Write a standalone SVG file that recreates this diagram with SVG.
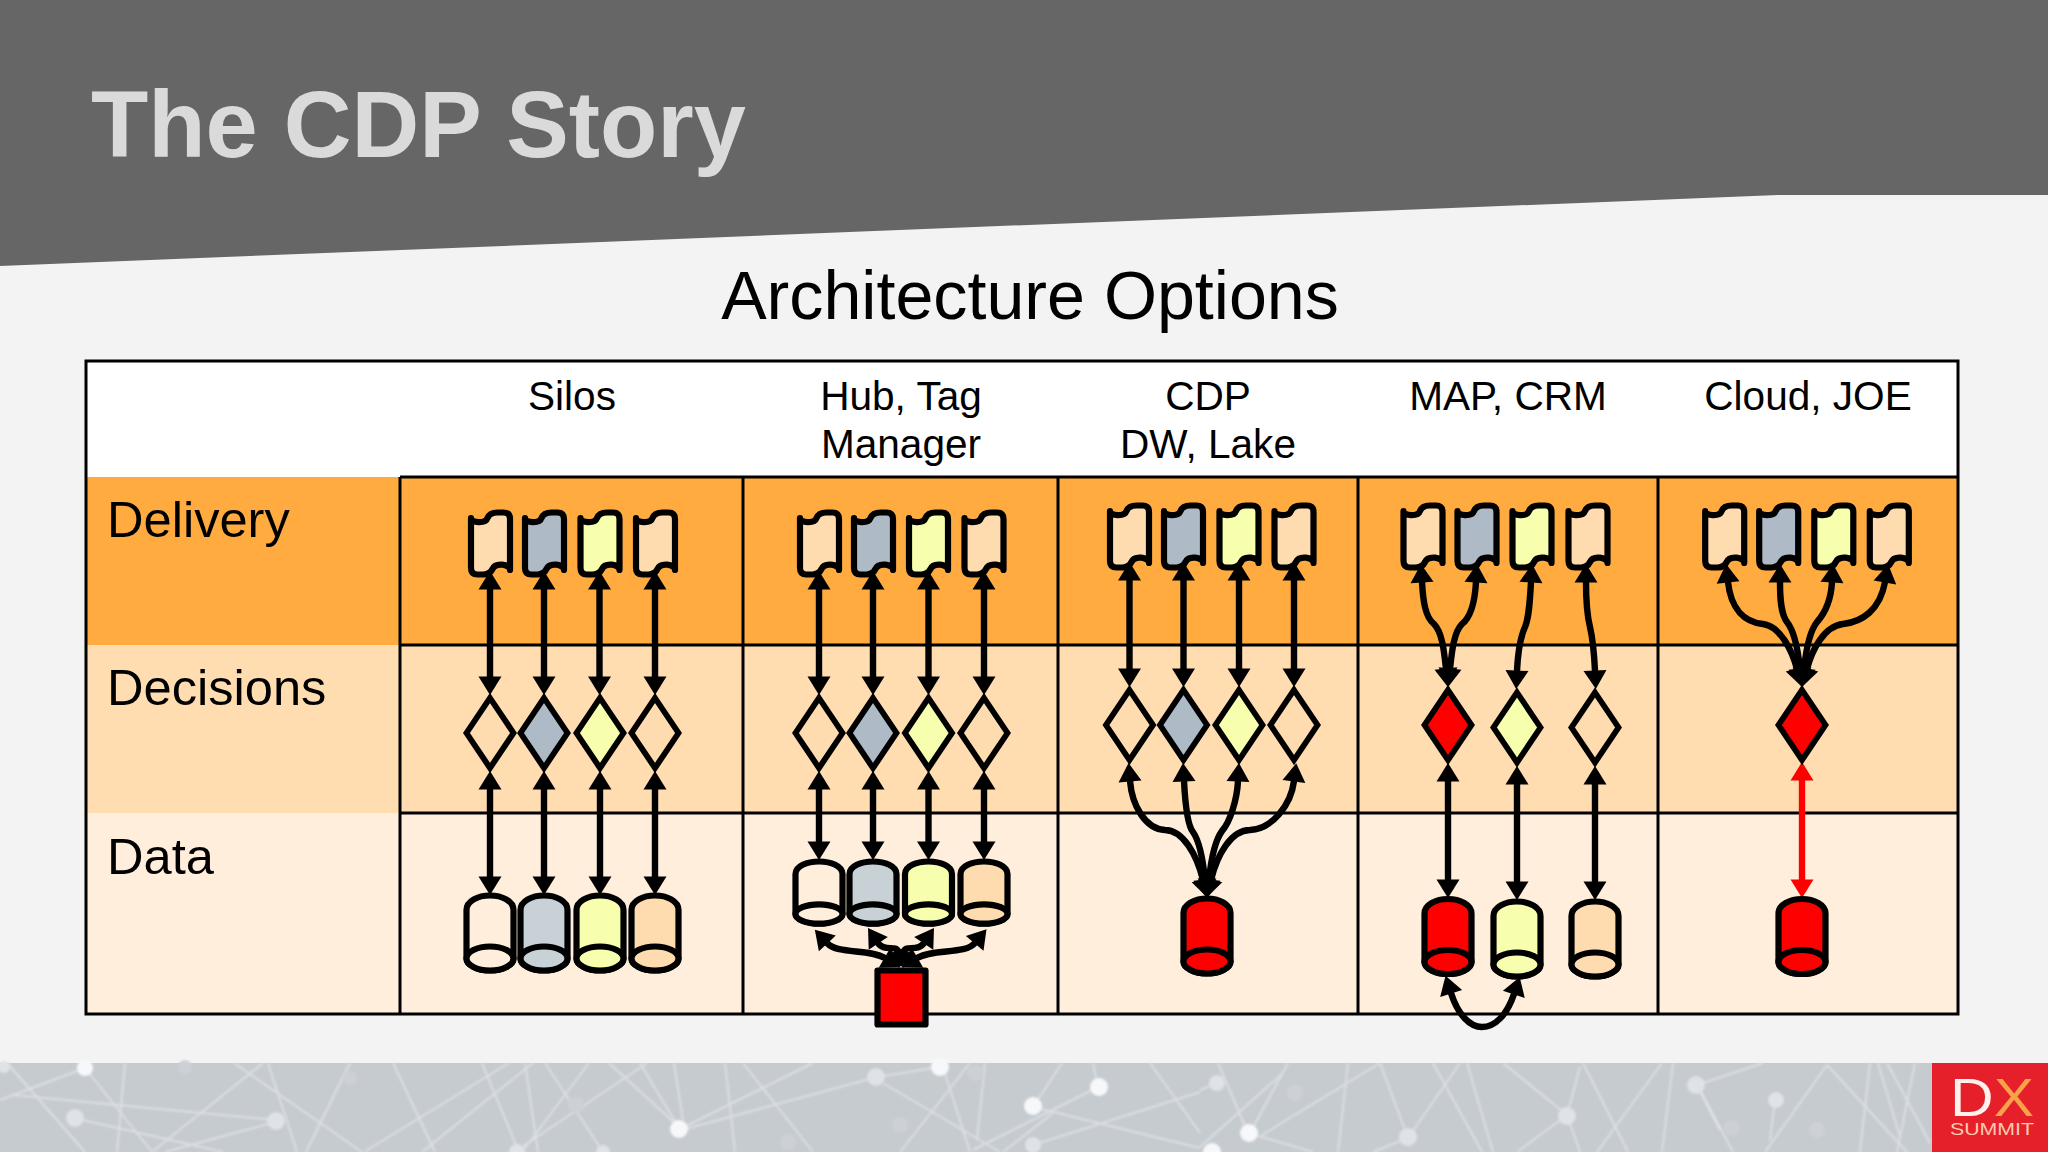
<svg xmlns="http://www.w3.org/2000/svg" xmlns:xlink="http://www.w3.org/1999/xlink" width="2048" height="1152" viewBox="0 0 2048 1152">
<style>
text{font-family:"Liberation Sans",Arial,sans-serif;fill:#000}
.h{font-size:40.6px;text-anchor:middle}
.r{font-size:50.6px}
.ln{fill:none;stroke:#000;stroke-width:3}
.s{stroke:#000;stroke-linejoin:round;stroke-linecap:round;stroke-width:6.2}
.d{stroke:#000;stroke-width:5.8;stroke-linejoin:miter}
.pe{fill:#FFDCB0}.bl{fill:#AEBAC6}.ye{fill:#F7FFAF}.re{fill:#FF0000}.cr{fill:#FFEEDC}.cb{fill:#C8D2D6}
#connectors path{fill:none;stroke:#000;stroke-width:6.4;marker-start:url(#ah);marker-end:url(#ah)}
#connectors path.red{stroke:#FF0000;marker-start:url(#ar);marker-end:url(#ar)}
#foot-lines path{stroke:#E9ECEF;stroke-width:2;fill:none;opacity:.62}
#foot-dots .w{fill:#F7F8FA}#foot-dots .l{fill:#DFE2E6}#foot-dots .f{fill:#CDD1D6}
</style>
<defs>
<marker id="ah" markerUnits="userSpaceOnUse" markerWidth="19" markerHeight="24" refX="0" refY="12" orient="auto-start-reverse" overflow="visible"><path d="M-0.500 0.500L18 12L-0.500 23.500Z" fill="#000"/></marker>
<marker id="ar" markerUnits="userSpaceOnUse" markerWidth="19" markerHeight="24" refX="0" refY="12" orient="auto-start-reverse" overflow="visible"><path d="M-0.500 0.500L18 12L-0.500 23.500Z" fill="#FF0000"/></marker>
<path id="doc" class="s" d="M-19.500 8C-19.500 13-5 14-3 8C-1 3 3 2.500 7 2.500L13 2.500Q19.500 2.500 19.500 9L19.500 60C19.500 54 5 52 2 59C0 63-3 64.500-7 64.500L-13 64.500Q-19.500 64.500-19.500 58Z"/>
<path id="dia" class="d" d="M0-35L23.500 0L0 35L-23.500 0Z"/>
<g id="cyl"><path class="s" d="M-23.500 17C-23.500 8-12 2.500 0 2.500C12 2.500 23.500 8 23.500 17L23.500 65.500C23.500 72 12 77.500 0 77.500C-12 77.500-23.500 72-23.500 65.500Z"/><ellipse class="s" cx="0" cy="65.500" rx="23.500" ry="12"/></g>
<g id="cyls"><path class="s" d="M-23.500 15C-23.500 7-12 2.500 0 2.500C12 2.500 23.500 7 23.500 15L23.500 55C23.500 60 12 64.500 0 64.500C-12 64.500-23.500 60-23.500 55Z"/><ellipse class="s" cx="0" cy="55" rx="23.500" ry="9.700"/></g>
<filter id="soft" x="-5%" y="-5%" width="110%" height="110%"><feGaussianBlur stdDeviation="0.8"/></filter>
</defs>

<g id="background">
<rect width="2048" height="1152" fill="#F3F3F3"/>
<path d="M0 0H2048V195H1778L0 266Z" fill="#666666"/>
<text x="91" y="157" font-size="93.800" font-weight="bold" style="fill:#DADADA">The CDP Story</text>
<text x="1030" y="319" font-size="68.200" text-anchor="middle">Architecture Options</text>
</g>

<g id="footer">
<rect x="0" y="1063" width="2048" height="89" fill="#C6CBD0"/>
<g id="foot-lines" filter="url(#soft)">
<path d="M7 1063L85 1152M85 1068L152 1152M125 1063L117 1152M0 1100L85 1068M13 1095L275 1120M74 1118L223 1152M275 1122L165 1152M263 1063L152 1152M234 1063L362 1152M268 1063L297 1152M350 1063L306 1152M393 1063L435 1152M509 1063L364 1152M533 1063L422 1152M525 1063L538 1152M545 1063L603 1152M589 1063L522 1152M647 1063L522 1147M609 1063L679 1127M640 1063L679 1128M674 1063L683 1120M482 1063L518 1150"/>
<path d="M725 1063L735 1152M743 1063L813 1152M682 1128L813 1063M682 1130L877 1077M877 1077L940 1067M883 1083L1000 1152M943 1067L970 1152M970 1063L900 1152M985 1063L977 1140M1062 1063L1033 1107M1033 1107L1200 1148M1098 1087L973 1150M1093 1063L1098 1087M1053 1113L1003 1152M1033 1145L1200 1092M1150 1063L1200 1133"/>
<path d="M1218 1063L1248 1133M1288 1063L1250 1133M1200 1147L1283 1073M1380 1063L1262 1135M1248 1133L1313 1152M1348 1063L1338 1152M1380 1063L1408 1138M1460 1063L1408 1138M1408 1138L1373 1152M1433 1063L1482 1152M1467 1063L1493 1152M1503 1063L1567 1115M1580 1067L1567 1115M1567 1115L1517 1152M1567 1115L1580 1152M1583 1063L1628 1152M1662 1063L1597 1152M1673 1063L1662 1152M1697 1085L1720 1130M1697 1085L1763 1063M1217 1083L1200 1090"/>
<path d="M1700 1090L1733 1152M1827 1065L1765 1152M1827 1065L1907 1152M1870 1063L1860 1152M1878 1063L1900 1137M1887 1063L1930 1143M1915 1063L1897 1152M1775 1100L1770 1140"/>
</g>
<g id="foot-dots" filter="url(#soft)">
<circle class="l" cx="4" cy="1067" r="6"/><circle class="w" cx="85" cy="1068" r="8"/><circle class="l" cx="75" cy="1118" r="9"/><circle class="l" cx="276" cy="1121" r="9"/><circle class="w" cx="679" cy="1129" r="9"/><circle class="l" cx="517" cy="1152" r="8"/><circle class="l" cx="603" cy="1152" r="7"/><circle class="f" cx="350" cy="1078" r="7"/><circle class="f" cx="185" cy="1067" r="7"/><circle class="f" cx="576" cy="1105" r="8"/>
<circle class="l" cx="876" cy="1077" r="9"/><circle class="w" cx="940" cy="1067" r="9"/><circle class="w" cx="1099" cy="1087" r="9"/><circle class="w" cx="1033" cy="1106" r="9"/><circle class="l" cx="1033" cy="1145" r="8"/><circle class="f" cx="900" cy="1125" r="8"/><circle class="f" cx="788" cy="1142" r="8"/><circle class="f" cx="975" cy="1073" r="8"/>
<circle class="l" cx="1217" cy="1083" r="8"/><circle class="f" cx="1295" cy="1093" r="8"/><circle class="w" cx="1249" cy="1133" r="9"/><circle class="w" cx="1212" cy="1152" r="9"/><circle class="l" cx="1408" cy="1137" r="9"/><circle class="l" cx="1567" cy="1116" r="9"/><circle class="l" cx="1696" cy="1085" r="9"/>
<circle class="l" cx="1776" cy="1100" r="8"/><circle class="f" cx="1732" cy="1128" r="8"/><circle class="f" cx="1817" cy="1130" r="8"/>
</g>
<g id="dx-logo">
<rect x="1932" y="1063" width="116" height="89" fill="#E5202A"/>
<text x="1950" y="1116" font-size="53" textLength="84" lengthAdjust="spacingAndGlyphs" style="fill:#FFF1EC">D<tspan style="fill:#F7A24B">X</tspan></text>
<text x="1950" y="1135" font-size="17" textLength="84" lengthAdjust="spacingAndGlyphs" style="fill:#FFC9AE">SUMMIT</text>
</g>
</g>

<g id="table">
<rect x="86" y="361" width="1872" height="116" fill="#FFFFFF"/>
<rect x="86" y="477" width="1872" height="168" fill="#FFAB40"/>
<rect x="86" y="645" width="1872" height="168" fill="#FFDDB1"/>
<rect x="86" y="813" width="1872" height="201" fill="#FFEEDC"/>
<path class="ln" d="M400 477H1958M400 645H1958M400 813H1958M400 477V1014M743 477V1014M1058 477V1014M1358 477V1014M1658 477V1014"/>
<rect class="ln" x="86" y="361" width="1872" height="653"/>
<text class="h" x="572" y="410">Silos</text>
<text class="h" x="901" y="410">Hub, Tag</text>
<text class="h" x="901" y="458">Manager</text>
<text class="h" x="1208" y="410">CDP</text>
<text class="h" x="1208" y="458">DW, Lake</text>
<text class="h" x="1508" y="410">MAP, CRM</text>
<text class="h" x="1808" y="410">Cloud, JOE</text>
<text class="r" x="107" y="537">Delivery</text>
<text class="r" x="107" y="705">Decisions</text>
<text class="r" x="107" y="874">Data</text>
</g>

<g id="connectors">
<path d="M490 589V677"/><path d="M544 589V677"/><path d="M599.500 589V677"/><path d="M655 589V677"/>
<path d="M490 789V877"/><path d="M544 789V877"/><path d="M600 789V877"/><path d="M655 789V877"/>
<path d="M819 589V677"/><path d="M873 589V677"/><path d="M928.500 589V677"/><path d="M984 589V677"/>
<path d="M819 789V842"/><path d="M873 789V842"/><path d="M928.500 789V842"/><path d="M984 789V842"/>
<path d="M885 958C868 948 838 955 827 943"/>
<path d="M898 951C896 945 884 952 878 943"/>
<path d="M904 951C906 945 918 952 924 943"/>
<path d="M917 958C934 948 965 955 975 943"/>
<path d="M1129.500 580V669"/><path d="M1183.500 580V669"/><path d="M1239 580V669"/><path d="M1294 580V669"/>
<path d="M1203 880C1197 855 1183 830 1165 830C1145 829 1132 805 1130 781"/>
<path d="M1205 880C1203 860 1200 842 1193 832C1187 825 1185 800 1184 781"/>
<path d="M1209 880C1211 860 1214 842 1222 831C1230 822 1237 800 1238 781"/>
<path d="M1211 880C1217 855 1231 830 1250 830C1272 829 1291 805 1294 781"/>
<path d="M1446 669C1444 650 1442 632 1434 624C1425 617 1423 600 1422 582"/>
<path d="M1450 669C1452 650 1454 632 1462 624C1471 617 1475 600 1476 582"/>
<path d="M1517 671C1518 650 1520 638 1525 627C1529 618 1530 600 1531 582"/>
<path d="M1595 671C1594 650 1593 640 1590 627C1587 615 1586 600 1586 582"/>
<path d="M1448 781V880"/><path d="M1517 784V882"/><path d="M1595 784V882"/>
<path d="M1451 993C1458 1015 1470 1027 1482 1027C1495 1027 1507 1015 1514 994"/>
<path d="M1797 669C1792 650 1780 626 1763 624C1745 622 1731 610 1728 582"/>
<path d="M1800 669C1798 650 1795 632 1787 622C1781 614 1780 600 1780 582"/>
<path d="M1804 669C1806 650 1809 632 1817 622C1825 613 1831 600 1832 582"/>
<path d="M1807 669C1812 650 1824 626 1843 624C1862 622 1880 610 1885 582"/>
<path class="red" d="M1802 780V880"/>
</g>

<g id="silos-nodes">
<g id="silos-app1"><use xlink:href="#doc" href="#doc" class="pe" x="490.500" y="510"/></g>
<g id="silos-app2"><use xlink:href="#doc" href="#doc" class="bl" x="544.500" y="510"/></g>
<g id="silos-app3"><use xlink:href="#doc" href="#doc" class="ye" x="600" y="510"/></g>
<g id="silos-app4"><use xlink:href="#doc" href="#doc" class="pe" x="655.500" y="510"/></g>
<g id="silos-dec1"><use xlink:href="#dia" href="#dia" class="pe" x="490" y="733"/></g>
<g id="silos-dec2"><use xlink:href="#dia" href="#dia" class="bl" x="544" y="733"/></g>
<g id="silos-dec3"><use xlink:href="#dia" href="#dia" class="ye" x="600" y="733"/></g>
<g id="silos-dec4"><use xlink:href="#dia" href="#dia" class="pe" x="655" y="733"/></g>
<g id="silos-db1"><use xlink:href="#cyl" href="#cyl" class="cr" x="490" y="893"/></g>
<g id="silos-db2"><use xlink:href="#cyl" href="#cyl" class="cb" x="544" y="893"/></g>
<g id="silos-db3"><use xlink:href="#cyl" href="#cyl" class="ye" x="600" y="893"/></g>
<g id="silos-db4"><use xlink:href="#cyl" href="#cyl" class="pe" x="655" y="893"/></g>
</g>
<g id="hub-nodes">
<g id="hub-app1"><use xlink:href="#doc" href="#doc" class="pe" x="819.500" y="510"/></g>
<g id="hub-app2"><use xlink:href="#doc" href="#doc" class="bl" x="873.500" y="510"/></g>
<g id="hub-app3"><use xlink:href="#doc" href="#doc" class="ye" x="928.500" y="510"/></g>
<g id="hub-app4"><use xlink:href="#doc" href="#doc" class="pe" x="984" y="510"/></g>
<g id="hub-dec1"><use xlink:href="#dia" href="#dia" class="pe" x="819" y="733"/></g>
<g id="hub-dec2"><use xlink:href="#dia" href="#dia" class="bl" x="873" y="733"/></g>
<g id="hub-dec3"><use xlink:href="#dia" href="#dia" class="ye" x="928.500" y="733"/></g>
<g id="hub-dec4"><use xlink:href="#dia" href="#dia" class="pe" x="984" y="733"/></g>
<g id="hub-db1"><use xlink:href="#cyls" href="#cyls" class="cr" x="819" y="859"/></g>
<g id="hub-db2"><use xlink:href="#cyls" href="#cyls" class="cb" x="873" y="859"/></g>
<g id="hub-db3"><use xlink:href="#cyls" href="#cyls" class="ye" x="928.500" y="859"/></g>
<g id="hub-db4"><use xlink:href="#cyls" href="#cyls" class="pe" x="984" y="859"/></g>
<g id="hub-square"><rect class="s re" x="877.500" y="970.500" width="48" height="54"/></g>
</g>
<g id="cdp-nodes">
<g id="cdp-app1"><use xlink:href="#doc" href="#doc" class="pe" x="1129.500" y="503"/></g>
<g id="cdp-app2"><use xlink:href="#doc" href="#doc" class="bl" x="1183.500" y="503"/></g>
<g id="cdp-app3"><use xlink:href="#doc" href="#doc" class="ye" x="1239" y="503"/></g>
<g id="cdp-app4"><use xlink:href="#doc" href="#doc" class="pe" x="1294" y="503"/></g>
<g id="cdp-dec1"><use xlink:href="#dia" href="#dia" class="pe" x="1129.500" y="725"/></g>
<g id="cdp-dec2"><use xlink:href="#dia" href="#dia" class="bl" x="1183.500" y="725"/></g>
<g id="cdp-dec3"><use xlink:href="#dia" href="#dia" class="ye" x="1239" y="725"/></g>
<g id="cdp-dec4"><use xlink:href="#dia" href="#dia" class="pe" x="1294" y="725"/></g>
<g id="cdp-db"><use xlink:href="#cyl" href="#cyl" class="re" x="1207" y="896"/></g>
</g>
<g id="map-nodes">
<g id="map-app1"><use xlink:href="#doc" href="#doc" class="pe" x="1423" y="503"/></g>
<g id="map-app2"><use xlink:href="#doc" href="#doc" class="bl" x="1477" y="503"/></g>
<g id="map-app3"><use xlink:href="#doc" href="#doc" class="ye" x="1532" y="503"/></g>
<g id="map-app4"><use xlink:href="#doc" href="#doc" class="pe" x="1588" y="503"/></g>
<g id="map-dec1"><use xlink:href="#dia" href="#dia" class="re" x="1448" y="725"/></g>
<g id="map-dec2"><use xlink:href="#dia" href="#dia" class="ye" x="1517" y="727.500"/></g>
<g id="map-dec3"><use xlink:href="#dia" href="#dia" class="pe" x="1595" y="727.500"/></g>
<g id="map-db1"><use xlink:href="#cyl" href="#cyl" class="re" x="1448" y="896.500"/></g>
<g id="map-db2"><use xlink:href="#cyl" href="#cyl" class="ye" x="1517" y="899"/></g>
<g id="map-db3"><use xlink:href="#cyl" href="#cyl" class="pe" x="1595" y="899"/></g>
</g>
<g id="cloud-nodes">
<g id="cloud-app1"><use xlink:href="#doc" href="#doc" class="pe" x="1724.700" y="503"/></g>
<g id="cloud-app2"><use xlink:href="#doc" href="#doc" class="bl" x="1778.700" y="503"/></g>
<g id="cloud-app3"><use xlink:href="#doc" href="#doc" class="ye" x="1833.800" y="503"/></g>
<g id="cloud-app4"><use xlink:href="#doc" href="#doc" class="pe" x="1889.300" y="503"/></g>
<g id="cloud-dec"><use xlink:href="#dia" href="#dia" class="re" x="1802" y="725"/></g>
<g id="cloud-db"><use xlink:href="#cyl" href="#cyl" class="re" x="1802" y="896.500"/></g>
</g>
</svg>
